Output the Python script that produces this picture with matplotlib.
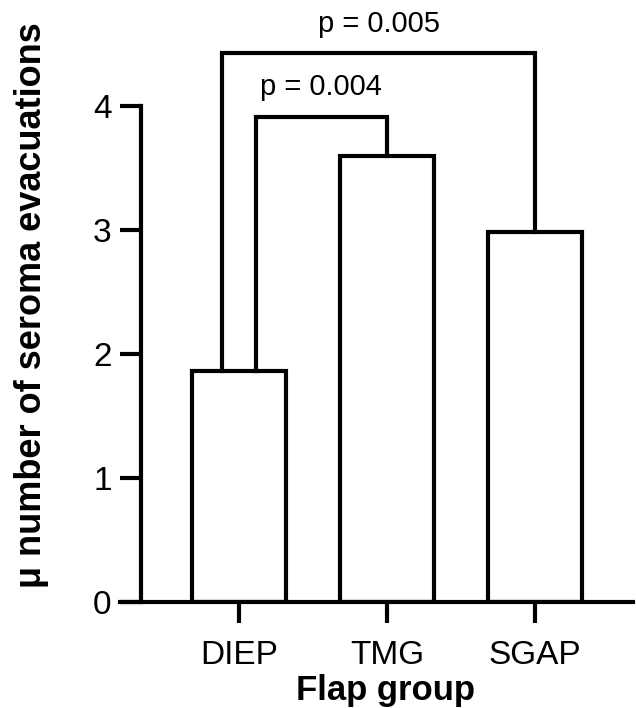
import matplotlib
matplotlib.use('Agg')
import matplotlib.pyplot as plt
import numpy as np

plt.rcParams['font.family'] = ['Liberation Sans', 'DejaVu Sans']

# data
groups = ['DIEP', 'TMG', 'SGAP']
means = [1.86, 3.60, 2.98]
# comparisons: (left group, right group, bracket height, label)
pairs = [(0, 1, 3.915, 'p = 0.004'),
         (0, 2, 4.425, 'p = 0.005')]
yticks = [0, 1, 2, 3, 4]

lw = 3.0
fig = plt.figure(figsize=(6.36, 7.08), dpi=100)
ax = fig.add_axes([120 / 636, 106 / 708, 513 / 636, 496 / 708])

# move the y spine first, it resets the ticks
for s in ['top', 'right']:
    ax.spines[s].set_visible(False)
ax.spines['left'].set_position(('data', -0.664))
ax.spines['left'].set_linewidth(lw)
ax.spines['bottom'].set_linewidth(lw)

x = np.arange(len(groups))
ax.bar(x, means, width=0.63, color='white', edgecolor='black',
       linewidth=lw, zorder=2)

ax.set_xlim(-0.804, 2.662)
ax.set_ylim(0, 4)
ax.set_xticks(x)
ax.set_xticklabels(groups)
ax.set_yticks(yticks)
ax.set_yticklabels([str(t) for t in yticks])
ax.tick_params(axis='y', length=15, width=lw, pad=6, labelsize=24)
ax.tick_params(axis='x', length=15, width=lw, pad=12, labelsize=24)

# significance brackets; the DIEP side is split into two legs
leg_off = {0: 0.112, 1: -0.112}
for i, (a, b, h, lab) in enumerate(pairs):
    xa = x[a] + leg_off[i]
    xb = x[b]
    ax.plot([xa, xa, xb, xb], [means[a], h, h, means[b]], color='black',
            lw=lw, solid_joinstyle='miter', clip_on=False, zorder=3)
    ax.text((xa + xb) / 2, h + 0.17, lab, ha='center', va='baseline',
            fontsize=21)

fig.text(386 / 636, 1 - 700 / 708, 'Flap group', ha='center', va='baseline',
         fontsize=25, fontweight='bold')
fig.text(32 / 636, 1 - 305 / 708, 'μ number of seroma evacuations',
         rotation=90, ha='center', va='center', fontsize=26,
         fontweight='bold')

fig.savefig('out.png', dpi=100)
